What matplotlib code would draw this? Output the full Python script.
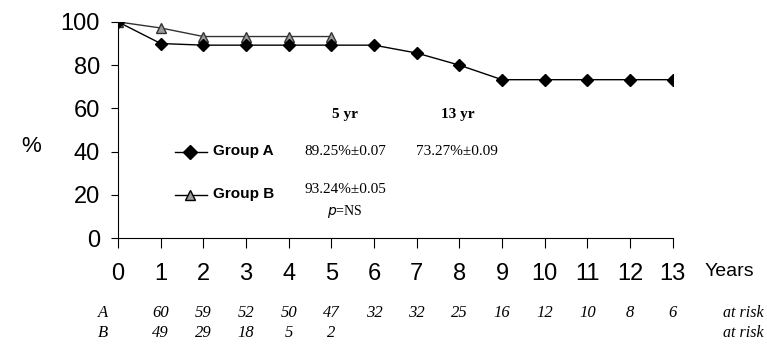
import matplotlib
matplotlib.use("Agg")
import matplotlib.pyplot as plt
from matplotlib.lines import Line2D

# survival curves
years_a = [0, 1, 2, 3, 4, 5, 6, 7, 8, 9, 10, 11, 12, 13]
group_a = [100, 90.0, 89.25, 89.25, 89.25, 89.25, 89.25, 85.6, 80.0, 73.27, 73.27, 73.27, 73.27, 73.27]
years_b = [0, 1, 2, 3, 4, 5]
group_b = [100, 97.2, 93.24, 93.24, 93.24, 93.24]

risk_a = [60, 59, 52, 50, 47, 32, 32, 25, 16, 12, 10, 8, 6]
risk_b = [49, 29, 18, 5, 2]

yticks = [0, 20, 40, 60, 80, 100]

fig = plt.figure(figsize=(7.67, 3.48), dpi=100)
ax = fig.add_axes([0.154, 0.316, 0.723, 0.621])

ax.plot(years_a, group_a, color="black", lw=1.0, marker="D", ms=6.5,
        mfc="black", mec="black", zorder=3)
ax.plot(years_b, group_b, color="#333333", lw=1.0, marker="^", ms=7.5,
        mfc="#9a9a9a", mec="#333333", zorder=2)

ax.set_xlim(0, 13)
ax.set_ylim(0, 100)
ax.set_xticks(range(0, 14))
ax.set_yticks(yticks)
ax.spines["top"].set_visible(False)
ax.spines["right"].set_visible(False)
ax.tick_params(axis="x", direction="out", length=7, pad=11, labelsize=17)
ax.tick_params(axis="y", direction="out", length=5, pad=8, labelsize=17)
for lab in ax.get_xticklabels() + ax.get_yticklabels():
    lab.set_family("Liberation Sans")

fig.text(0.028, 0.58, "%", fontsize=16, family="Liberation Sans", ha="left", va="center")
ax.text(1.058, -0.155, "Years", transform=ax.transAxes, fontsize=14,
        family="Liberation Sans", ha="left", va="center")

# legend drawn by hand
for yv, mk, mfc in [(40, "D", "black"), (20, "^", "#9a9a9a")]:
    ax.add_line(Line2D([1.33, 2.08], [yv, yv], color="black", lw=1.0, ls="-"))
    ax.plot([1.69], [yv], marker=mk, ms=7, mfc=mfc, mec="black", clip_on=False)
ax.text(2.22, 40.5, "Group A", fontsize=11, fontweight="bold",
        family="Liberation Sans", va="center")
ax.text(2.22, 20.5, "Group B", fontsize=11, fontweight="bold",
        family="Liberation Sans", va="center")

serif = "Liberation Serif"
ax.text(5.32, 57, "5 yr", fontsize=11, fontweight="bold", family=serif, ha="center", va="center")
ax.text(7.97, 57, "13 yr", fontsize=11, fontweight="bold", family=serif, ha="center", va="center")
ax.text(5.32, 40, "89.25%±0.07", fontsize=11, family=serif, ha="center", va="center")
ax.text(7.94, 40, "73.27%±0.09", fontsize=11, family=serif, ha="center", va="center")
ax.text(5.32, 22.5, "93.24%±0.05", fontsize=11, family=serif, ha="center", va="center")
ax.text(5.32, 12.5, r"$\it{p}$=NS", fontsize=10, family=serif, ha="center", va="center")

# numbers at risk
ya, yb = -0.347, -0.44
trans = ax.get_xaxis_transform()
ax.text(-0.35, ya, "A", transform=trans, fontsize=12, style="italic",
        family=serif, ha="center", va="center")
ax.text(-0.35, yb, "B", transform=trans, fontsize=12, style="italic",
        family=serif, ha="center", va="center")
for i, n in enumerate(risk_a):
    ax.text(i + 1, ya, str(n), transform=trans, fontsize=12, style="italic",
            family=serif, ha="center", va="center")
for i, n in enumerate(risk_b):
    ax.text(i + 1, yb, str(n), transform=trans, fontsize=12, style="italic",
            family=serif, ha="center", va="center")
for yy in (ya, yb):
    ax.text(1.09, yy, "at risk", transform=ax.transAxes, fontsize=11.5,
            style="italic", family=serif, ha="left", va="center")

fig.savefig("out.png", dpi=100)
